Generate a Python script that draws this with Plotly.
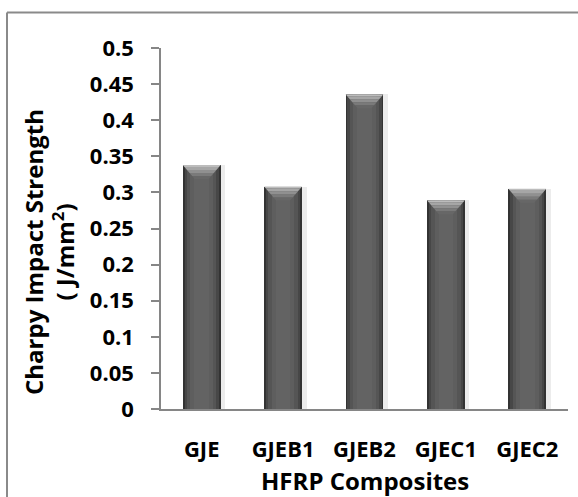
import plotly.graph_objects as go

# Charpy impact strength of the hybrid fibre-reinforced composites
categories = ["GJE", "GJEB1", "GJEB2", "GJEC1", "GJEC2"]
strength = [0.338, 0.308, 0.436, 0.289, 0.305]
y_tick_values = [0, 0.05, 0.1, 0.15, 0.2, 0.25, 0.3, 0.35, 0.4, 0.45, 0.5]
y_tick_labels = ["0", "0.05", "0.1", "0.15", "0.2", "0.25", "0.3", "0.35", "0.4", "0.45", "0.5"]

W, H = 578, 497
ML, MR, MT, MB = 161, 10, 48, 88
plot_w = W - ML - MR
plot_h = H - MT - MB
y_max = 0.5

FONT = "Open Sans"
positions = list(range(len(categories)))
bar_w = 0.466

fig = go.Figure()

# soft drop shadow behind each bar
fig.add_trace(go.Bar(x=positions, y=strength, width=bar_w + 0.05, offset=-bar_w / 2 + 0.005,
                     marker=dict(color="#ececec", line=dict(width=0)), hoverinfo="skip"))

# layered bars give a rounded, cylinder-like horizontal shading
for w, c in [(bar_w, "#333333"), (bar_w * 0.9, "#474747"), (bar_w * 0.78, "#555555"),
             (bar_w * 0.6, "#5e5e5e"), (bar_w * 0.38, "#636363")]:
    fig.add_trace(go.Bar(x=positions, y=strength, width=w,
                         marker=dict(color=c, line=dict(width=0)), hoverinfo="skip"))

# bevelled, lighter cap on top of every bar, built from thin trapezoid bands
px_y = y_max / plot_h                    # data units per pixel, vertical
px_x = len(categories) / plot_w          # data units per pixel, horizontal
bevel_px = 14
inset_px = 12
bands = [(0, 2, "#bcbcbc"), (2, 5, "#a6a6a6"), (5, 8, "#909090"),
         (8, 11, "#7a7a7a"), (11, 14, "#676767")]
cap_shapes = []
for xi, v in zip(positions, strength):
    xl, xr = xi - bar_w / 2, xi + bar_w / 2
    for d0, d1, col in bands:
        i0 = inset_px * d0 / bevel_px * px_x
        i1 = inset_px * d1 / bevel_px * px_x
        y0, y1 = v - d0 * px_y, v - d1 * px_y
        path = (f"M {xl + i0} {y0} L {xr - i0} {y0} L {xr - i1} {y1} "
                f"L {xl + i1} {y1} Z")
        cap_shapes.append(dict(type="path", xref="x", yref="y", path=path,
                               fillcolor=col, line=dict(width=0), layer="above"))

axis_col = "#868686"
frame = [
    # chart-area frame (runs off the right and bottom edges)
    dict(type="line", xref="paper", yref="paper",
         x0=(7 - ML) / plot_w, x1=(W + 5 - ML) / plot_w,
         y0=(H - MB - 12.5) / plot_h, y1=(H - MB - 12.5) / plot_h,
         line=dict(color="#8a8a8a", width=2)),
    dict(type="line", xref="paper", yref="paper",
         x0=(7 - ML) / plot_w, x1=(7 - ML) / plot_w,
         y0=(H - MB - 12.5) / plot_h, y1=-(MB + 5) / plot_h,
         line=dict(color="#8a8a8a", width=2)),
]

fig.update_layout(
    width=W, height=H,
    margin=dict(l=ML, r=MR, t=MT, b=MB),
    paper_bgcolor="white", plot_bgcolor="white",
    barmode="overlay", bargap=0, showlegend=False,
    font=dict(family=FONT, color="black"),
    xaxis=dict(range=[-0.5, len(categories) - 0.5], tickvals=positions, ticktext=categories,
               showgrid=False, zeroline=False, showline=True, linecolor=axis_col, linewidth=1.5,
               ticks="", ticklabelstandoff=20,
               tickfont=dict(family=FONT, size=22, weight="bold", color="black")),
    yaxis=dict(range=[0, y_max], tickvals=y_tick_values, ticktext=y_tick_labels,
               showgrid=False, zeroline=False, showline=True, linecolor=axis_col, linewidth=1.5,
               ticks="outside", ticklen=8, tickcolor=axis_col, tickwidth=1.5,
               ticklabelstandoff=13,
               tickfont=dict(family=FONT, size=22, weight="bold", color="black")),
    annotations=[
        dict(text="Charpy Impact Strength<br>( J/mm<sup>2</sup>)", textangle=-90,
             xref="paper", yref="paper", x=(49 - ML) / plot_w, y=(H - MB - 252) / plot_h,
             xanchor="center", yanchor="middle", showarrow=False,
             font=dict(family=FONT, size=24, weight="bold", color="black")),
        dict(text="HFRP Composites", xref="paper", yref="paper",
             x=0.5, y=-(480 - (H - MB)) / plot_h, xanchor="center", yanchor="middle",
             showarrow=False, font=dict(family=FONT, size=24, weight="bold", color="black")),
    ],
    shapes=frame + cap_shapes,
)

fig.write_html("out.html")
